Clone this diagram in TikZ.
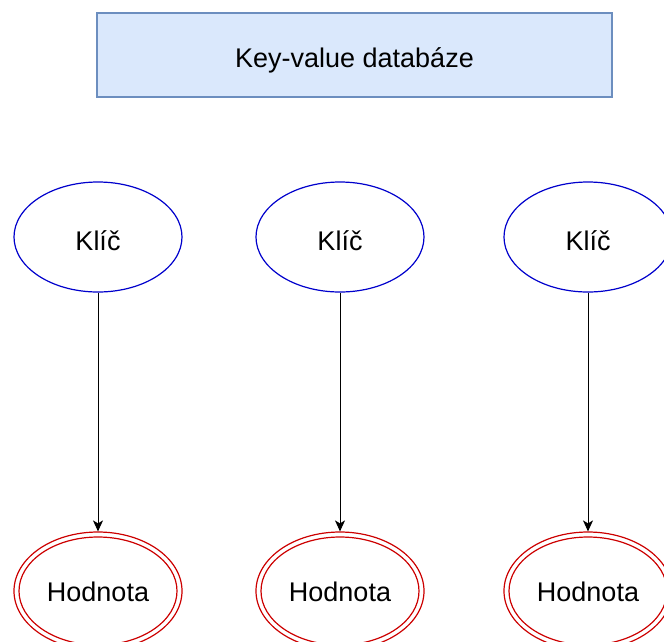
\documentclass[tikz,border=0pt]{standalone}
\usepackage{fontspec}
\setmainfont{Liberation Sans}
\usetikzlibrary{shapes.geometric,arrows.meta}
\definecolor{boxfill}{HTML}{DAE8FC}
\definecolor{boxline}{HTML}{6C8EBF}
\definecolor{keyblue}{HTML}{0000CC}
\definecolor{valred}{HTML}{CC0000}
\begin{document}
\begin{tikzpicture}[x=1pt,y=-1pt,
  lbl/.style={font=\fontsize{27}{32}\selectfont, text=black, inner sep=0pt},
  title/.style={draw=boxline, fill=boxfill, line width=1.2pt, minimum width=515pt, minimum height=84pt, inner sep=0pt},
  keynode/.style={ellipse, draw=keyblue, line width=1.2pt, minimum width=168pt, minimum height=110pt, inner sep=0pt},
  valnode/.style={ellipse, draw=valred, line width=1.2pt, minimum width=168pt, minimum height=118pt, inner sep=0pt},
  link/.style={draw=black, line width=1pt, -{Stealth[length=11pt,width=10pt,inset=3pt]}}
]
\useasboundingbox (0,0) rectangle (664,641);

% title box with its caption set a little below the middle
\node[title] (db) at (354.5,55) {};
\node[lbl] (dbtext) at ([yshift=-5pt]db.center) {Key-value databáze};

\foreach \i/\x in {1/98, 2/340, 3/588}{
  \node[keynode] (k\i) at (\x,237) {};
  \node[lbl] (kt\i) at ([yshift=-4pt]k\i.center) {Klíč};
  \node[valnode] (v\i) at (\x,591) {};
  \draw[valred, line width=1.2pt] (v\i.center) ellipse [x radius=79pt, y radius=54pt];
  \node[lbl] (vt\i) at ([yshift=-1pt]v\i.center) {Hodnota};
  \draw[link] (k\i.south) -- (v\i.north);
}
\end{tikzpicture}
\end{document}
